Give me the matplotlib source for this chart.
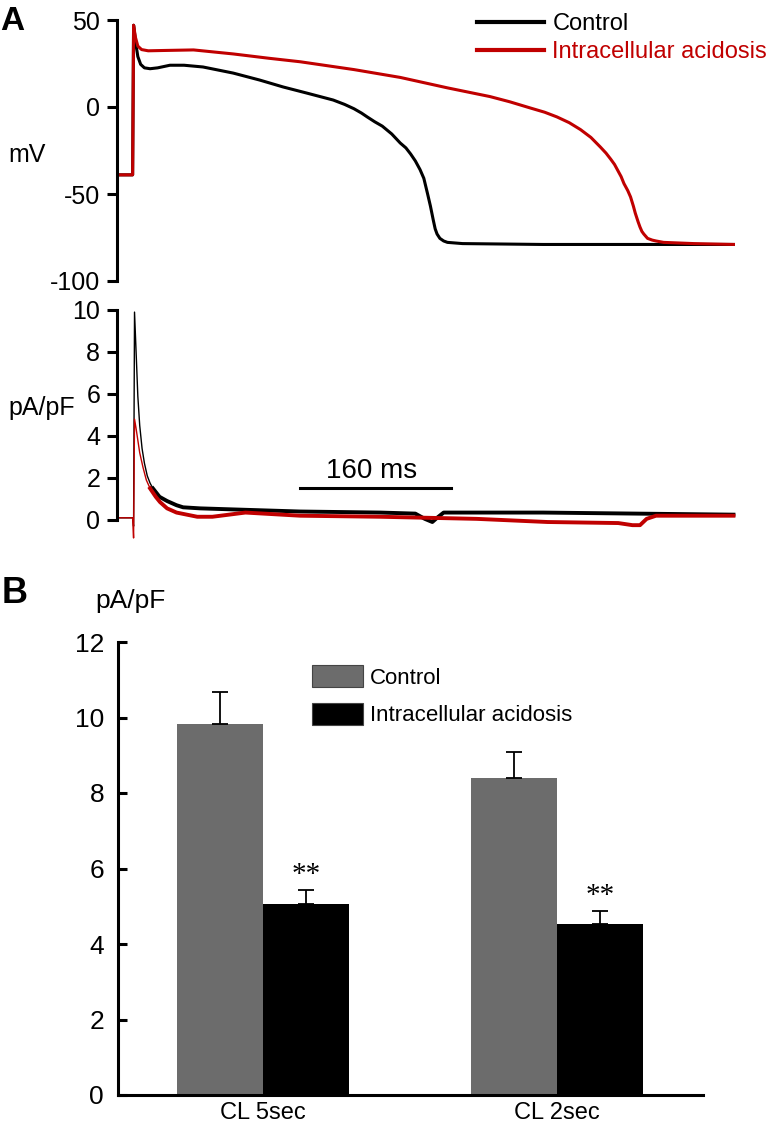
import matplotlib
matplotlib.use("Agg")
import matplotlib.pyplot as plt
import numpy as np

plt.rcParams['font.family'] = ['Liberation Sans', 'DejaVu Sans']
plt.rcParams['axes.unicode_minus'] = False

W, H = 768, 1125
RED = '#c00000'
GRAY = '#6c6c6c'

# ---- panel A: action potentials (ms, mV) ----
ap_ctrl_t = [0, 15.5, 16.5, 19, 21, 24, 28, 34, 42, 55, 70, 90, 122, 150, 175, 200, 228,
             240, 250, 258, 264, 272, 280, 290, 299, 305, 310, 315, 320, 324, 328, 331, 334,
             336, 338, 341, 345, 349, 365, 450, 652]
ap_ctrl_v = [-39, -39, 47, 36, 29, 24.5, 22.5, 22, 22.5, 24, 24, 23, 19.5, 15.5, 11.5, 8, 4,
             1.5, -1, -3.5, -5.7, -8.5, -11, -15.5, -20.7, -23.5, -27, -31, -36, -41, -50, -57,
             -65, -70, -73, -75.5, -77, -77.8, -78.5, -79, -79]

ap_acid_t = [0, 15.5, 16.5, 18.5, 21, 25, 32, 50, 80, 122, 160, 193, 250, 299, 349, 394, 415,
             437, 452, 465, 478, 490, 501, 511, 517, 522, 526, 529, 533, 536, 540, 543, 546,
             548, 551, 553, 555, 557, 561, 566, 570, 578, 610, 652]
ap_acid_v = [-39, -39, 47, 40, 35, 33, 32.3, 32.5, 32.8, 30.5, 28, 26, 21.5, 17, 11, 6, 3,
             -0.6, -3, -5.7, -9, -13, -17.5, -23, -26.5, -30, -33, -36, -40, -44, -48, -51.7,
             -57, -61, -66, -69, -71.5, -73, -75.5, -76.5, -77, -77.8, -78.5, -79]

# ---- panel A: currents (ms, pA/pF) ----
i_ctrl_t = [0, 15.5, 16.5, 17.5, 19, 21, 23, 25.5, 28, 31, 34, 37, 44, 52, 62, 69, 87, 122,
            193, 278, 315, 325, 333, 338, 345, 450, 550, 652]
i_ctrl_v = [0.1, 0.1, -0.3, 9.9, 8.2, 5.9, 4.5, 3.4, 2.7, 2.1, 1.75, 1.5, 1.1, 0.9, 0.7, 0.6,
            0.55, 0.5, 0.4, 0.35, 0.3, 0.05, -0.1, 0.1, 0.35, 0.35, 0.3, 0.25]

i_acid_t = [0, 15.5, 16.5, 17.5, 19, 21, 23, 26.5, 30, 34, 40, 44.5, 52, 62, 84, 100, 135,
            193, 278, 380, 455, 530, 545, 553, 560, 570, 600, 652]
i_acid_v = [0.1, 0.1, -0.86, 4.8, 4.4, 3.8, 3.2, 2.5, 1.9, 1.5, 1.1, 0.85, 0.55, 0.35, 0.15,
            0.15, 0.35, 0.2, 0.15, 0.05, -0.1, -0.15, -0.25, -0.25, 0.05, 0.2, 0.2, 0.2]

SCALE_T0, SCALE_LEN, SCALE_Y = 193, 160, 1.5

# ---- panel B: peak current ----
groups = ['CL 5sec', 'CL 2sec']
ctrl_mean = [9.83, 8.40]
ctrl_sem = [0.85, 0.69]
acid_mean = [5.06, 4.53]
acid_sem = [0.37, 0.34]
labels = ['Control', 'Intracellular acidosis']


def fx(px):
    return px / W


def fy(py):
    return 1 - py / H


def style_left(ax, direction='out', length=7, pad=5):
    for s in ['top', 'right', 'bottom']:
        ax.spines[s].set_visible(False)
    ax.spines['left'].set_linewidth(2.2)
    ax.tick_params(axis='y', direction=direction, length=length, width=2.2,
                   labelsize=18, pad=pad)
    ax.set_xticks([])


fig = plt.figure(figsize=(W / 100, H / 100), dpi=100)

# action potentials
xl = (-1.06, 660)
ax1 = fig.add_axes([fx(117), fy(281), fx(741) - fx(117), (281 - 20) / H])
ax1.plot(ap_ctrl_t, ap_ctrl_v, color='black', lw=2.2, label=labels[0])
ax1.plot(ap_acid_t, ap_acid_v, color=RED, lw=2.2, label=labels[1])
ax1.set_xlim(*xl)
ax1.set_ylim(-100, 50)
ax1.set_yticks([-100, -50, 0, 50])
style_left(ax1)
leg = ax1.legend(loc='upper left', bbox_to_anchor=(fx(477), fy(13)), bbox_transform=fig.transFigure,
                 frameon=False, fontsize=17, handlelength=2.85, handletextpad=0.34,
                 labelspacing=0.25, borderpad=0, borderaxespad=0)
for line in leg.get_lines():
    line.set_linewidth(3)
leg.get_texts()[1].set_color(RED)

# currents
ax2 = fig.add_axes([fx(117), fy(543), fx(741) - fx(117), (543 - 305.8) / H])
ct, cv = np.array(i_ctrl_t), np.array(i_ctrl_v)
at, av = np.array(i_acid_t), np.array(i_acid_v)
ax2.plot(ct, cv, color='black', lw=1.0)
ax2.plot(ct[ct >= 37], cv[ct >= 37], color='black', lw=2.8)
ax2.plot(at, av, color=RED, lw=1.0)
ax2.plot(at[at >= 34], av[at >= 34], color=RED, lw=2.8)
ax2.plot([SCALE_T0, SCALE_T0 + SCALE_LEN], [SCALE_Y, SCALE_Y], color='black', lw=2.2)
ax2.text(SCALE_T0 + SCALE_LEN / 2 - 4, SCALE_Y + 0.5, '160 ms', ha='center', va='baseline', fontsize=20)
ax2.set_xlim(*xl)
ax2.set_ylim(-1.1, 10.2)
ax2.set_yticks(range(0, 11, 2))
style_left(ax2)
ax2.spines['left'].set_bounds(0, 10)

fig.text(fx(8), fy(162), 'mV', fontsize=18, va='baseline')
fig.text(fx(8), fy(415), 'pA/pF', fontsize=18, va='baseline')
fig.text(fx(0), fy(30), 'A', fontsize=24, fontweight='bold', va='baseline')

# bar chart
ax3 = fig.add_axes([fx(118), fy(1095), fx(703) - fx(118), (1095 - 642) / H])
x = np.arange(len(groups))
bw = 0.2925
b1 = ax3.bar(x - bw / 2, ctrl_mean, bw, color=GRAY, label=labels[0],
             yerr=[[0] * 2, ctrl_sem], error_kw=dict(ecolor='black', elinewidth=1.3, capsize=6, capthick=1.3))
b2 = ax3.bar(x + bw / 2, acid_mean, bw, color='black', label=labels[1],
             yerr=[[0] * 2, acid_sem], error_kw=dict(ecolor='black', elinewidth=1.3, capsize=6, capthick=1.3))
for xi, m, e in zip(x + bw / 2, acid_mean, acid_sem):
    ax3.text(xi, m + e + 0.05, '**', ha='center', va='bottom', fontsize=21,
             family=['Liberation Serif', 'DejaVu Serif'])
ax3.set_xlim(-0.4932, 1.4966)
ax3.set_ylim(0, 12)
ax3.set_yticks(range(0, 13, 2))
for s in ['top', 'right']:
    ax3.spines[s].set_visible(False)
ax3.spines['left'].set_linewidth(2.2)
ax3.spines['bottom'].set_linewidth(2.2)
ax3.tick_params(axis='y', direction='in', length=6.5, width=2.2, labelsize=19, pad=10)
ax3.set_xticks(x)
ax3.set_xticklabels(groups)
ax3.tick_params(axis='x', length=0, labelsize=17, pad=5)
leg2 = ax3.legend(loc='upper left', bbox_to_anchor=(fx(312), fy(665)), bbox_transform=fig.transFigure,
                  frameon=False, fontsize=16, handlelength=2.3, handleheight=1.17,
                  handletextpad=0.32, labelspacing=0.63, borderpad=0, borderaxespad=0)
for p in leg2.get_patches():
    p.set_edgecolor('#444444')
    p.set_linewidth(0.8)

fig.text(fx(95), fy(608), 'pA/pF', fontsize=19, va='baseline')
fig.text(fx(2), fy(603), 'B', fontsize=26, fontweight='bold', va='baseline')

fig.savefig('out.png', dpi=100)
